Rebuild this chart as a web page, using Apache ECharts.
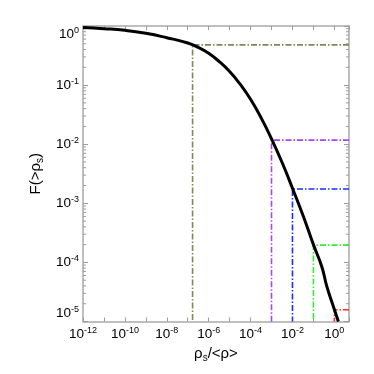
<!DOCTYPE html>
<html><head><meta charset="utf-8">
<script src="https://cdn.jsdelivr.net/npm/echarts@6/dist/echarts.min.js"></script>
<style>html,body{margin:0;padding:0;background:#fff}#c{width:374px;height:374px}</style>
</head><body><div id="c"></div>
<script>
// cumulative curve
const rhoRatio = [1e-12,1e-11,1e-10,1e-9,1e-8,1e-7,3.2e-7,1e-6,3.2e-6,1e-5,3.2e-5,1e-4,3.2e-4,1e-3,3.2e-3,1e-2,3.2e-2,0.1,0.25,0.44,1,1.55];
const cumFraction = [0.94,0.90,0.845,0.753,0.634,0.515,0.435,0.345,0.25,0.17,0.1035,0.0575,0.0279,0.0123,0.0049,0.0018,6.2e-4,2.0e-4,8.5e-5,3.9e-5,1.6e-5,1.0e-5];
// threshold markers
const thresholdX = [1.7e-7,1e-3,1e-2,1e-1,1];
const thresholdF = [0.48,0.0117,0.00175,1.96e-4,1.58e-5];
// tick labels (exponents of 10)
const xLabelExponents = [-12,-10,-8,-6,-4,-2,0];
const yLabelExponents = [0,-1,-2,-3,-4,-5];

const X_MIN = 1e-12, X_MAX = 5.0, Y_MIN = 1e-5, Y_MAX = 1;
const lineColors = ['#7b8b55','#a546ff','#1a2eff','#33ee33','#ff2a2a'];
const FONT = "'Liberation Sans', Arial, sans-serif";
const GREY = '#9a9a9a';

function expLabel(v, allowed){
  const l = Math.log10(v), e = Math.round(l);
  if (Math.abs(l - e) > 1e-6 || !allowed.includes(e)) return '';
  return '{b|10}{e|' + e + '}';
}
const labelRich = {
  b:{fontSize:13.5, lineHeight:16, fontFamily:FONT, color:'#000'},
  e:{fontSize:9, lineHeight:5, verticalAlign:'top', fontFamily:FONT, color:'#000'}
};

const yMinor = [];
for (let k = -5; k < 0; k++) for (let m = 2; m <= 9; m++) yMinor.push(m * Math.pow(10, k));

const series = [];
series.push({
  type:'custom', silent:true, clip:false, z:1,
  data: yMinor.map(v => [1e-6, v]),
  renderItem: function(params, api){
    const p = api.coord([1e-6, api.value(1)]);
    const cs = params.coordSys;
    return {type:'group', children:[
      {type:'line', shape:{x1:cs.x, y1:p[1], x2:cs.x+3, y2:p[1]}, style:{stroke:GREY, lineWidth:1}},
      {type:'line', shape:{x1:cs.x+cs.width, y1:p[1], x2:cs.x+cs.width-3, y2:p[1]}, style:{stroke:GREY, lineWidth:1}}
    ]};
  }
});
thresholdX.forEach((x, i) => {
  series.push({
    type:'line', showSymbol:false, silent:true, z:2,
    data:[[X_MAX, thresholdF[i]],[x, thresholdF[i]],[x, Y_MIN]],
    lineStyle:{color:lineColors[i], width:1.6, type:[6,2,1.5,2]}
  });
});
series.push({
  type:'line', showSymbol:false, smooth:0.5, z:3,
  data: rhoRatio.map((x, i) => [x, cumFraction[i]]),
  lineStyle:{color:'#000', width:3}
});

const axisCommon = {
  type:'log', logBase:10, interval:1,
  axisLine:{show:true, onZero:false, lineStyle:{color:'#aaa', width:1.5}},
  axisTick:{show:true, inside:true, length:4, lineStyle:{color:GREY, width:1}},
  splitLine:{show:false}
};

const option = {
  animation:false,
  backgroundColor:'#fff',
  grid:{left:83, right:25, top:26, bottom:52.5, containLabel:false, outerBoundsMode:'none'},
  xAxis:[
    Object.assign({}, axisCommon, {
      min:X_MIN, max:X_MAX, position:'bottom',
      axisLabel:{margin:5, formatter:v => expLabel(v, xLabelExponents), rich:labelRich},
      name:'{n|ρ}{s|s}{n|/<ρ>}', nameLocation:'middle', nameGap:22.5,
      nameTextStyle:{rich:{
        n:{fontSize:15, lineHeight:18, fontFamily:FONT, color:'#000'},
        s:{fontSize:10, lineHeight:8, verticalAlign:'bottom', fontFamily:FONT, color:'#000'}
      }}
    }),
    Object.assign({}, axisCommon, {min:X_MIN, max:X_MAX, position:'top', axisLabel:{show:false}})
  ],
  yAxis:[
    Object.assign({}, axisCommon, {
      min:Y_MIN, max:Y_MAX, position:'left',
      axisTick:{show:true, inside:true, length:5, lineStyle:{color:GREY, width:1}},
      axisLabel:{margin:4, formatter:v => expLabel(v, yLabelExponents), rich:labelRich,
        verticalAlignMinLabel:'bottom', verticalAlignMaxLabel:'top'},
      name:'{n|F(>ρ}{s|s}{n|)}', nameLocation:'middle', nameGap:37,
      nameTextStyle:{rich:{
        n:{fontSize:15, lineHeight:18, fontFamily:FONT, color:'#000'},
        s:{fontSize:10, lineHeight:8, verticalAlign:'bottom', fontFamily:FONT, color:'#000'}
      }}
    }),
    Object.assign({}, axisCommon, {min:Y_MIN, max:Y_MAX, position:'right',
      axisTick:{show:true, inside:true, length:5, lineStyle:{color:GREY, width:1}},
      axisLabel:{show:false}})
  ],
  series: series
};
const chart = echarts.init(document.getElementById('c'), null, {renderer:'canvas'});
chart.setOption(option);
</script>
</body></html>
